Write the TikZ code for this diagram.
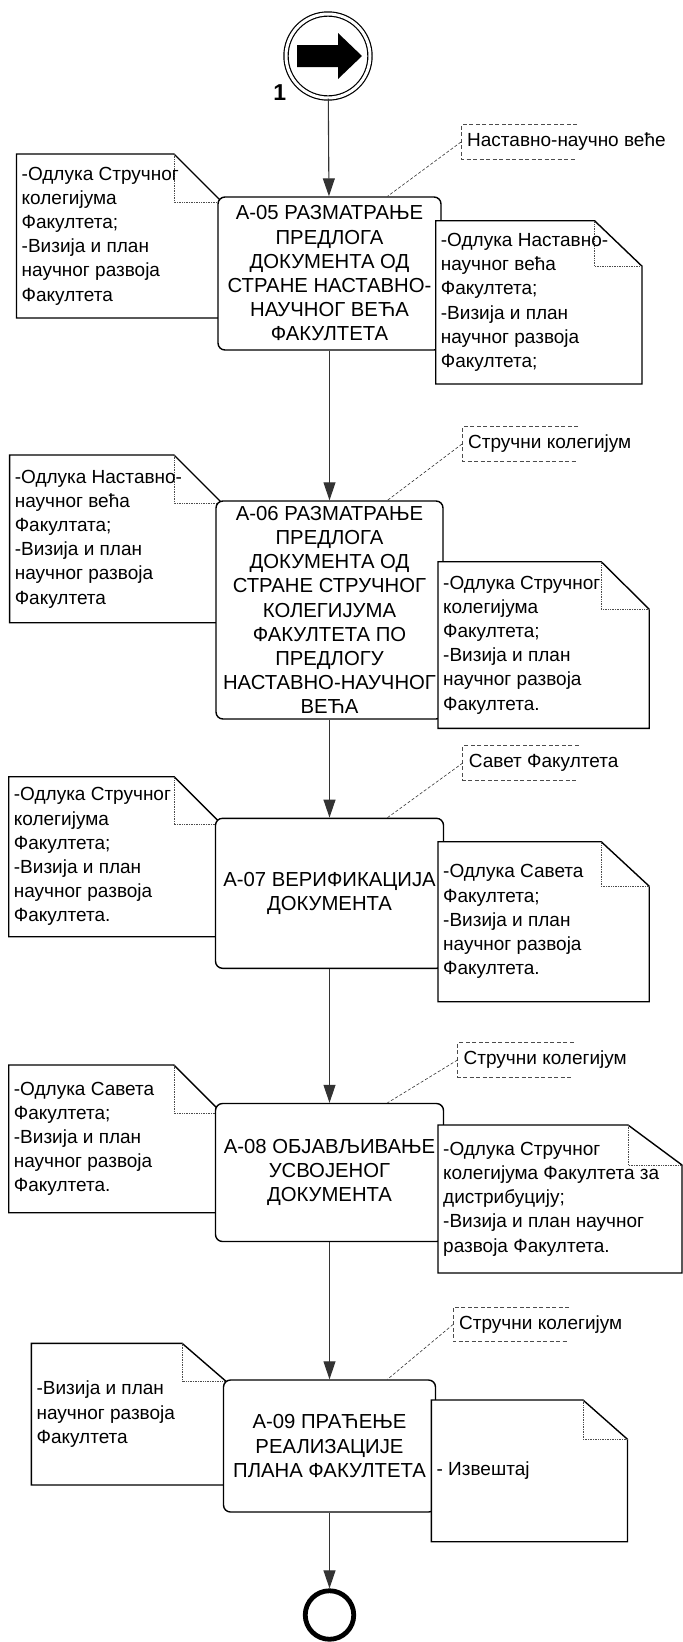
\documentclass[tikz,border=0pt]{standalone}
\usepackage{fontspec}
\setmainfont{Liberation Sans}
\usetikzlibrary{arrows.meta}

\newcommand{\boxfont}{\fontsize{20.3pt}{24.2pt}\selectfont}
\newcommand{\docfont}{\fontsize{19pt}{24.2pt}\selectfont}
\newcommand{\startfont}{\fontsize{23pt}{27pt}\selectfont\bfseries}

% document with folded corner: name, left, top, right, bottom, fold x, fold y, text
\newcommand{\datadoc}[8]{%
	\draw[docline] (#2, #3) -- (#4-#6, #3) -- (#4, #3+#7) -- (#4, #5) -- (#2, #5) -- cycle;
	\draw[foldline] (#4-#6, #3) |- (#4, #3+#7);
	\node[doctext] (#1)at(#2+5, #3/2+#5/2) {#8};
}
% text annotation: name, left, middle, text
\newcommand{\textnote}[4]{%
	\node[notetext] (#1)at(#2, #3) {#4};
	\draw[noteline] ([xshift=116pt]#1.north west) -- (#1.north west) -- (#1.south west) -- ([xshift=116pt]#1.south west);
}

\begin{document}
\begin{tikzpicture}[x=1pt, y=-1pt, >={Triangle[length=18pt, width=12pt]},
		flow/.style={->, draw=black!80, line width=1.1pt},
		activity/.style={draw, rectangle, rounded corners=7pt, fill=white, line width=1.4pt, align=center, font=\boxfont, inner sep=0pt},
		docline/.style={draw, fill=white, line width=1.4pt},
		foldline/.style={densely dotted, draw=black!70, line width=0.7pt},
		doctext/.style={anchor=west, align=left, font=\docfont, inner sep=0pt},
		notetext/.style={anchor=west, minimum height=34pt, inner xsep=6pt, inner ysep=0pt, font=\docfont},
		noteline/.style={draw=black!70, line width=0.9pt, dash pattern=on 4pt off 2.5pt},
		assoc/.style={draw=black!80, line width=0.6pt, dash pattern=on 3pt off 2pt}]
	\useasboundingbox (0, 0) rectangle (683, 1642);

	\node[draw, circle, double, double distance=3pt, line width=1.2pt, minimum size=84pt, inner sep=0pt,
		label={[font=\startfont, label distance=3pt]213:1}] (start)at(328, 56) {};
	\fill (297, 45) -- (338, 45) -- (338, 33) -- (362, 56) -- (338, 79) -- (338, 67) -- (297, 67) -- cycle;

	% A-05
	\datadoc{in05}{16.5}{154}{222}{318}{48}{48}{-Одлука Стручног\\колегијума\\Факултета;\\-Визија и план\\научног развоја\\Факултета}
	\node[activity, minimum width=223pt, minimum height=153pt] (a05)at(329.5, 273.5) {A-05 РАЗМАТРАЊЕ\\ПРЕДЛОГА\\ДОКУМЕНТА ОД\\СТРАНЕ НАСТАВНО-\\НАУЧНОГ ВЕЋА\\ФАКУЛТЕТА};
	\datadoc{out05}{435.7}{220.7}{642}{384}{47.5}{45.5}{-Одлука Наставно-\\научног већа\\Факултета;\\-Визија и план\\научног развоја\\Факултета;}
	\textnote{n05}{461}{142}{Наставно-научно веће}
	\draw[assoc] (n05.west) -- ([xshift=58pt]a05.north);

	% A-06
	\datadoc{in06}{9.6}{455}{222}{622.7}{48}{48}{-Одлука Наставно-\\научног већа\\Факултата;\\-Визија и план\\научног развоја\\Факултета}
	\node[activity, minimum width=227pt, minimum height=218pt] (a06)at(329.5, 610) {A-06 РАЗМАТРАЊЕ\\ПРЕДЛОГА\\ДОКУМЕНТА ОД\\СТРАНЕ СТРУЧНОГ\\КОЛЕГИЈУМА\\ФАКУЛТЕТА ПО\\ПРЕДЛОГУ\\НАСТАВНО-НАУЧНОГ\\ВЕЋА};
	\datadoc{out06}{438}{561.7}{649.2}{728.3}{48}{47.5}{-Одлука Стручног\\колегијума\\Факултета;\\-Визија и план\\научног развоја\\Факултета.}
	\textnote{n06}{462}{444}{Стручни колегијум}
	\draw[assoc] (n06.west) -- ([xshift=58pt]a06.north);

	% A-07
	\datadoc{in07}{8.7}{776.7}{222}{936.7}{48}{48}{-Одлука Стручног\\колегијума\\Факултета;\\-Визија и план\\научног развоја\\Факултета.}
	\node[activity, minimum width=228pt, minimum height=150pt] (a07)at(329.5, 893.3) {A-07 ВЕРИФИКАЦИЈА\\ДОКУМЕНТА};
	\datadoc{out07}{438}{841.7}{649.2}{1001.7}{48}{44.5}{-Одлука Савета\\Факултета;\\-Визија и план\\научног развоја\\Факултета.}
	\textnote{n07}{462.7}{763}{Савет Факултета}
	\draw[assoc] (n07.west) -- ([xshift=58pt]a07.north);

	% A-08
	\datadoc{in08}{8.7}{1065}{222}{1212.7}{48}{48}{-Одлука Савета\\Факултета;\\-Визија и план\\научног развоја\\Факултета.}
	\node[activity, minimum width=228pt, minimum height=138pt] (a08)at(329.5, 1172.5) {A-08 ОБЈАВЉИВАЊЕ\\УСВОЈЕНОГ\\ДОКУМЕНТА};
	\datadoc{out08}{438}{1125}{682}{1273}{54}{40}{-Одлука Стручног\\колегијума Факултета за\\дистрибуцију;\\-Визија и план научног\\развоја Факултета.}
	\textnote{n08}{457.5}{1060}{Стручни колегијум}
	\draw[assoc] (n08.west) -- ([xshift=58pt]a08.north);

	% A-09
	\datadoc{in09}{31.4}{1343.3}{226.6}{1485}{44.5}{38.5}{-Визија и план\\научног развоја\\Факултета}
	\node[activity, minimum width=212pt, minimum height=132pt] (a09)at(329.5, 1446) {A-09 ПРАЋЕЊЕ\\РЕАЛИЗАЦИЈЕ\\ПЛАНА ФАКУЛТЕТА};
	\datadoc{out09}{431.4}{1400}{627.5}{1541.7}{44.5}{39.3}{- Извештај}
	\textnote{n09}{453}{1324.5}{Стручни колегијум}
	\draw[assoc] (n09.west) -- ([xshift=58pt]a09.north);

	\node[draw, circle, line width=4.8pt, minimum size=48.5pt, inner sep=0pt] (finish)at(329.5, 1615) {};

	\draw[flow] (start) -- (a05);
	\draw[flow] (a05) -- (a06);
	\draw[flow] (a06) -- (a07);
	\draw[flow] (a07) -- (a08);
	\draw[flow] (a08) -- (a09);
	\draw[flow] (a09) -- (finish);
\end{tikzpicture}
\end{document}
